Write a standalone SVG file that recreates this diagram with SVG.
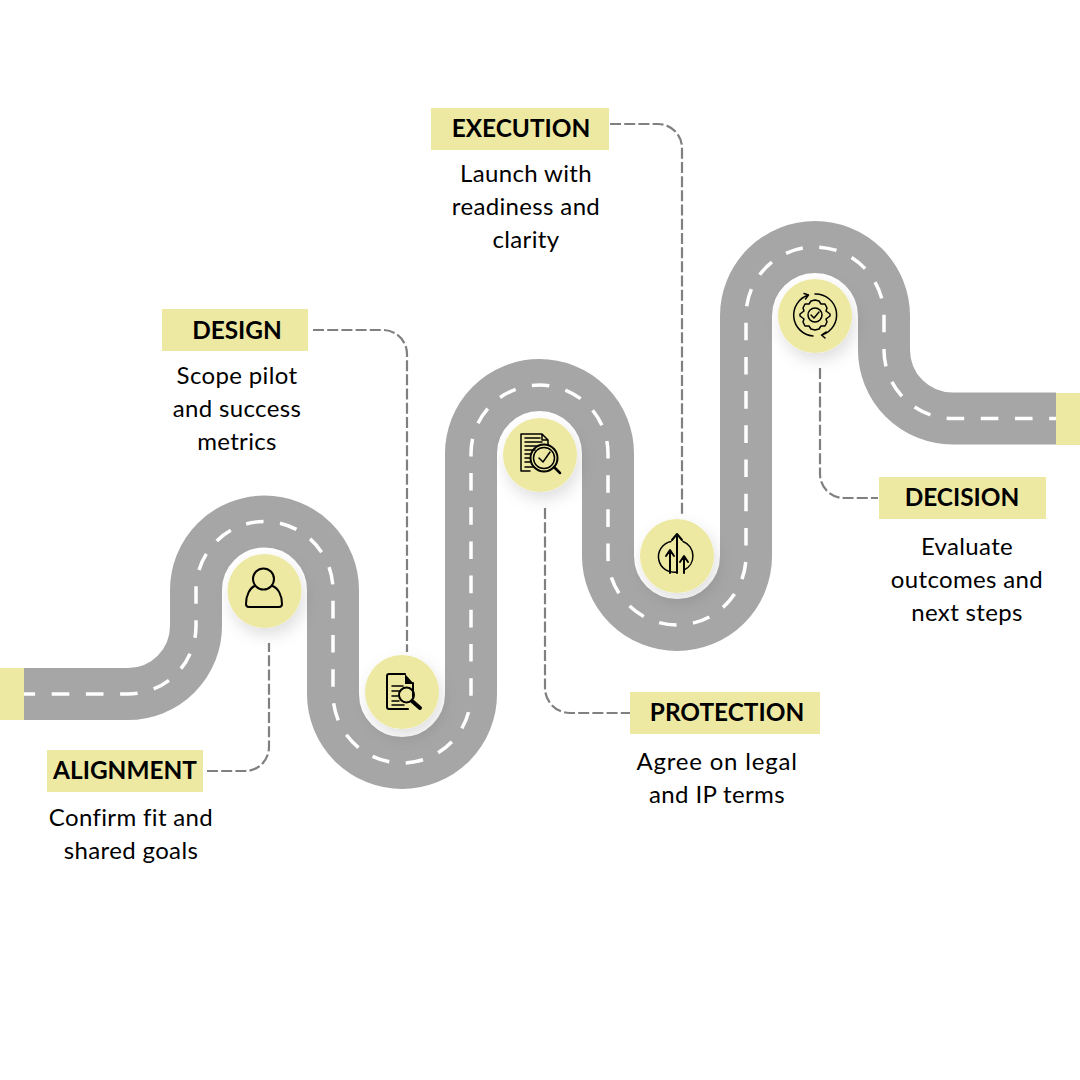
<svg xmlns="http://www.w3.org/2000/svg" width="1080" height="1080" viewBox="0 0 1080 1080">
<style>
.road{fill:none;stroke:#a6a6a6;stroke-width:52}
.mark{fill:none;stroke:#fff;stroke-width:3.5;stroke-dasharray:17.6 16.6}
.conn{fill:none;stroke:#808080;stroke-width:2.2;stroke-dasharray:11 3.2}
.box{fill:#eee9a2}
.dot{fill:#eee9a2;filter:url(#sh)}
.ic{fill:none;stroke:#000;stroke-width:2;stroke-linecap:round;stroke-linejoin:round}
.thin{stroke-width:1.5}
.fl{fill:#000}
text{font-family:Lato,"Liberation Sans",sans-serif;fill:#000;text-anchor:middle}
.t{font-size:24.4px;font-weight:700}
.b{font-size:24px;letter-spacing:.35px}
</style>
<defs>
<filter id="sh" x="-50%" y="-50%" width="210%" height="210%"><feDropShadow dx="3" dy="7" stdDeviation="8" flood-color="#000" flood-opacity="0.13"/></filter>
<path id="c" d="M24 694H128A68 68 0 0 0 196 626V590A68.500 68.500 0 0 1 333 590V694A69 69 0 0 0 471 694V453.500A68.500 68.500 0 0 1 608 453.500V556A69 69 0 0 0 746 556V316A69 69 0 0 1 884 316V350A68.500 68.500 0 0 0 952.500 418.500H1056"/>
</defs>
<g id="road">
<use href="#c" class="road"/>
<use href="#c" class="mark" stroke-dashoffset="6.500"/>
<rect class="box" x="0" y="668" width="24" height="52"/>
<rect class="box" x="1056" y="393" width="24" height="52"/>
</g>
<g id="connectors">
<path class="conn" d="M207 771H245A24 24 0 0 0 269 747V643"/>
<path class="conn" d="M313 330H383A24 24 0 0 1 407 354V652"/>
<path class="conn" d="M610 124H658A24 24 0 0 1 682 148V515"/>
<path class="conn" d="M545 508V688A25 25 0 0 0 570 713H630"/>
<path class="conn" d="M820 368V474A24 24 0 0 0 844 498H878"/>
</g>
<g id="alignment">
<circle class="dot" cx="264.500" cy="591" r="37"/>
<circle class="ic" cx="263.500" cy="579" r="10.500"/>
<path class="ic" d="M254.500 586C250 588 246 595 246 604Q246 607 249 607H279Q282 607 282 604C282 595 278 588 272.500 586"/>
<rect class="box" x="47" y="750" width="156" height="42"/>
<text class="t" x="125" y="779">ALIGNMENT</text>
<text class="b" x="131" y="826">Confirm fit and</text>
<text class="b" x="131" y="859">shared goals</text>
</g>
<g id="design">
<circle class="dot" cx="402" cy="692" r="37"/>
<path class="ic" d="M405 674H389Q387 674 387 676V707Q387 709 389 709H408M413 697V683"/>
<path class="fl" d="M405 674L414 684H405Z"/>
<path class="ic thin" d="M392 686H403M392 691H400M392 696H398M392 701H399M392 705H404"/>
<circle class="ic" cx="406.500" cy="695" r="7.500"/>
<path class="ic" d="M412 701L420 708" style="stroke-width:4"/>
<rect class="box" x="162" y="309" width="146" height="42"/>
<text class="t" x="237" y="339">DESIGN</text>
<text class="b" x="237" y="384">Scope pilot</text>
<text class="b" x="237" y="417">and success</text>
<text class="b" x="237" y="450">metrics</text>
</g>
<g id="protection">
<circle class="dot" cx="540" cy="455" r="37"/>
<path class="ic thin" d="M530 471H521V434H542L548 440V445M542 434V440H548"/>
<path class="ic" d="M525 438H540M525 442H542M525 446H538M525 450H535M525 454H531M525 458H530M525 462H530M525 467H534" style="stroke-width:1.500"/>
<circle class="ic" cx="544" cy="458" r="13.500"/>
<circle class="ic thin" cx="544" cy="458" r="10.500"/>
<path class="ic thin" d="M539 458L543 462L550 452"/>
<path class="ic" d="M554 467L560 473" style="stroke-width:2.500"/>
<rect class="box" x="630" y="692" width="190" height="42"/>
<text class="t" x="727" y="721">PROTECTION</text>
<text class="b" x="717" y="770" style="letter-spacing:.8px">Agree on legal</text>
<text class="b" x="717" y="803">and IP terms</text>
</g>
<g id="execution">
<circle class="dot" cx="677" cy="556" r="37"/>
<path class="ic" d="M677 573V535M672 540L677 534L682 540M670 573V552M666 556L670 550L674 556M684 573V558M680 562L684 556L688 562"/>
<path class="ic thin" d="M671 541.500A15.500 15.500 0 0 0 677 572M683 541.500A15.500 15.500 0 0 1 684 570"/>
<rect class="box" x="431" y="108" width="178" height="42"/>
<text class="t" x="521" y="137">EXECUTION</text>
<text class="b" x="526" y="182">Launch with</text>
<text class="b" x="526" y="215">readiness and</text>
<text class="b" x="526" y="248">clarity</text>
</g>
<g id="decision">
<circle class="dot" cx="815" cy="316" r="37"/>
<path class="ic thin" d="M808.500 295A21 21 0 0 0 813 336M815 294A21 21 0 0 1 822 335M804 293.500L808.500 295L805.500 299M826 332L821.500 335L825 338"/>
<circle class="ic thin" cx="815" cy="315" r="7"/>
<path class="ic thin" d="M811 315L814 318L819 312"/>
<path class="ic thin" d="M811 301L815 300L819 301L821 304L825 304L827 308L826 311L830 314V316L826 319L827 322L825 326L821 326L819 329L815 330L811 329L809 326L805 326L803 322L804 319L800 316V314L804 311L803 308L805 304L809 304Z"/>
<rect class="box" x="879" y="477" width="167" height="42"/>
<text class="t" x="962" y="506">DECISION</text>
<text class="b" x="967" y="555">Evaluate</text>
<text class="b" x="967" y="588">outcomes and</text>
<text class="b" x="967" y="621">next steps</text>
</g>
</svg>
